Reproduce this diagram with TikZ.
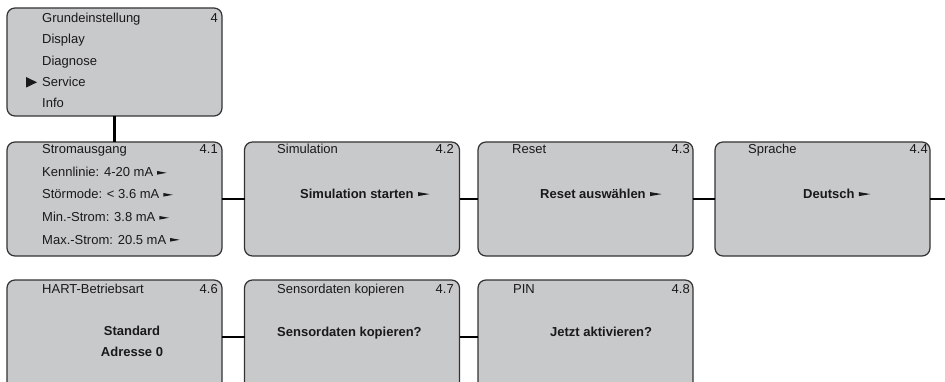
\documentclass[tikz,border=0pt]{standalone}
\usepackage{fontspec}
\setmainfont{Liberation Sans}
\definecolor{boxgray}{HTML}{C8C9CB}
\definecolor{boxline}{HTML}{333333}
\newcommand{\sarr}{\hspace{4pt}\tikz[baseline=-2.4pt]\fill (0,0)--(9.5pt,1.8pt)--(0,3.6pt)--cycle;}
\newcommand{\barr}{\hspace{4.5pt}\tikz[baseline=-2.4pt]\fill (0,0)--(11.5pt,2pt)--(0,4pt)--cycle;}
\begin{document}
\begin{tikzpicture}[x=1pt,y=-1pt,
  menubox/.style={draw=boxline, fill=boxgray, line width=1.25pt, rounded corners=8pt,
    minimum width=215pt, minimum height=114pt, inner sep=0pt, outer sep=0pt},
  conn/.style={line width=2.8pt, black},
  txt/.style={anchor=base west, inner sep=0pt, font=\fontsize{13}{15}\selectfont, text=black!90},
  num/.style={anchor=base east, inner sep=0pt, font=\fontsize{13}{15}\selectfont, text=black!90},
  btxt/.style={anchor=base west, inner sep=0pt, font=\fontsize{13}{15}\selectfont\bfseries, text=black!90},
  ctxt/.style={anchor=base, inner sep=0pt, font=\fontsize{13}{15}\selectfont\bfseries, text=black!90}]
\useasboundingbox (0,0) rectangle (945,382);
\clip (0,0) rectangle (945,382);
% boxes
\node[menubox, minimum height=108pt] (top) at (114.5,62) {};
\node[menubox] (s1) at (114.5,199) {};
\node[menubox] (s2) at (352,199) {};
\node[menubox] (s3) at (585.5,199) {};
\node[menubox] (s4) at (822.5,199) {};
\node[menubox] (h6) at (114.5,337) {};
\node[menubox] (h7) at (352,337) {};
\node[menubox] (h8) at (585.5,337) {};
\coordinate (rend) at (945,199);
% connectors
\draw[conn] (top.south) -- (s1.north);
\draw[conn] (s1.east) -- (s2.west);
\draw[conn] (s2.east) -- (s3.west);
\draw[conn] (s3.east) -- (s4.west);
\draw[conn] (s4.east) -- (rend);
\draw[conn] (h6.east) -- (h7.west);
\draw[conn] (h7.east) -- (h8.west);
% top box
\node[txt] (t1) at (42,22.5) {Grundeinstellung};
\node[num] (t0) at (218,22.5) {4};
\node[txt] (t2) at (42,44) {Display};
\node[txt] (t3) at (42,65.5) {Diagnose};
\node[txt] (t4) at (42,87) {Service};
\node[txt] (t5) at (42,108) {Info};
\fill[black!90] (26,77) -- (37,82.3) -- (26,87.6) -- cycle;
% row 1
\node[txt] (a1) at (42,154) {Stromausgang};
\node[num] (a0) at (218,154) {4.1};
\node[txt] (a2) at (42,177) {Kennlinie: 4-20 mA\sarr};
\node[txt] (a3) at (42,199) {Störmode: < 3.6 mA\sarr};
\node[txt] (a4) at (42,222) {Min.-Strom: 3.8 mA\sarr};
\node[txt] (a5) at (42,244) {Max.-Strom: 20.5 mA\sarr};
\node[txt] (b1) at (277,154) {Simulation};
\node[num] (b0) at (454,154) {4.2};
\node[btxt] (b2) at (300,198.5) {Simulation starten\barr};
\node[txt] (c1) at (512,154) {Reset};
\node[num] (c0) at (690,154) {4.3};
\node[btxt] (c2) at (540,198.5) {Reset auswählen\barr};
\node[txt] (d1) at (748,154) {Sprache};
\node[num] (d0) at (928,154) {4.4};
\node[btxt] (d2) at (803,198.5) {Deutsch\barr};
% row 2
\node[txt] (e1) at (42,293) {HART-Betriebsart};
\node[num] (e0) at (218,293) {4.6};
\node[ctxt] (e2) at (132,335) {Standard};
\node[ctxt] (e3) at (132,356) {Adresse 0};
\node[txt] (f1) at (277,293) {Sensordaten kopieren};
\node[num] (f0) at (454,293) {4.7};
\node[btxt] (f2) at (277,336) {Sensordaten kopieren?};
\node[txt] (g1) at (513,293) {PIN};
\node[num] (g0) at (690,293) {4.8};
\node[btxt] (g2) at (550,336) {Jetzt aktivieren?};
\end{tikzpicture}
\end{document}
